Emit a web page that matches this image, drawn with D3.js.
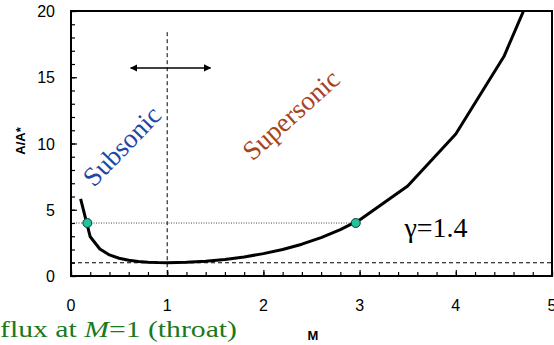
<!DOCTYPE html>
<html>
<head>
<meta charset="utf-8">
<script src="https://cdn.jsdelivr.net/npm/d3@7/dist/d3.min.js"></script>
<style>
  body { margin: 0; background: #fff; }
  svg { display: block; }
</style>
</head>
<body>
<svg id="chart"></svg>
<script>
// area ratio A/A* vs Mach number, gamma = 1.4
const machValues = [0.1, 0.2, 0.3, 0.4, 0.5, 0.6, 0.7, 0.8, 0.9, 1.0, 1.2, 1.4, 1.6, 1.8, 2.0, 2.2, 2.4, 2.6, 2.8, 3.0, 3.5, 4.0, 4.5, 5.0];
const areaRatios = [5.82, 2.96, 2.04, 1.59, 1.34, 1.19, 1.09, 1.04, 1.01, 1.0, 1.03, 1.12, 1.25, 1.44, 1.69, 2.0, 2.4, 2.9, 3.5, 4.23, 6.79, 10.72, 16.56, 25.0];
const markerMach = [0.17, 2.96];
const markerArea = [4, 4];
const xTicks = [0, 1, 2, 3, 4, 5];
const yTicks = [0, 5, 10, 15, 20];

const width = 554, height = 345;
const plotLeft = 71, plotRight = 552, plotTop = 11, plotBottom = 276;

const svg = d3.select('#chart')
  .attr('width', width)
  .attr('height', height)
  .attr('viewBox', [0, 0, width, height]);

const x = d3.scaleLinear().domain([0, 5]).range([plotLeft, plotRight]);
const y = d3.scaleLinear().domain([0, 20]).range([plotBottom, plotTop]);

const defs = svg.append('defs');
defs.append('clipPath').attr('id', 'plotclip')
  .append('rect').attr('x', plotLeft).attr('y', plotTop)
  .attr('width', plotRight - plotLeft).attr('height', plotBottom - plotTop);

// reference lines
svg.append('line')
  .attr('x1', x(0)).attr('x2', x(5)).attr('y1', y(1)).attr('y2', y(1))
  .style('stroke', '#000').style('stroke-width', 1).style('stroke-dasharray', '4,3');

svg.append('line')
  .attr('x1', x(1)).attr('x2', x(1)).attr('y1', y(18.4)).attr('y2', y(0))
  .style('stroke', '#000').style('stroke-width', 1).style('stroke-dasharray', '4,3');

svg.append('line')
  .attr('x1', x(0)).attr('x2', x(markerMach[1])).attr('y1', y(4)).attr('y2', y(4))
  .style('stroke', '#333').style('stroke-width', 0.9).style('stroke-dasharray', '1,1.5');

// curve
const line = d3.line().x((d, i) => x(machValues[i])).y((d, i) => y(areaRatios[i]));
svg.append('path')
  .datum(areaRatios)
  .attr('clip-path', 'url(#plotclip)')
  .attr('d', line)
  .style('fill', 'none')
  .style('stroke', '#000')
  .style('stroke-width', 3)
  .style('stroke-linejoin', 'round');

// markers
svg.append('g').selectAll('circle')
  .data(markerMach)
  .join('circle')
  .attr('cx', (d) => x(d))
  .attr('cy', (d, i) => y(markerArea[i]))
  .attr('r', 4.5)
  .style('fill', '#1fc49a')
  .style('stroke', '#0b3d30')
  .style('stroke-width', 1);

// frame
svg.append('rect')
  .attr('x', plotLeft).attr('y', plotTop).attr('width', plotRight - plotLeft).attr('height', plotBottom - plotTop)
  .style('fill', 'none').style('stroke', '#000').style('stroke-width', 2);

// axes with inward ticks
const axisFont = '"Liberation Sans", Arial, sans-serif';
const gx = svg.append('g').attr('transform', `translate(0,${plotBottom})`);
gx.call(d3.axisTop(x).tickValues(d3.range(0, 5.001, 0.2)).tickSize(4).tickFormat(''));
gx.call((g) => g.selectAll('.domain').remove());
gx.append('g').call(d3.axisTop(x).tickValues(xTicks).tickSize(6).tickFormat(''))
  .call((g) => g.selectAll('.domain').remove());
svg.append('g').selectAll('text')
  .data(xTicks)
  .join('text')
  .attr('x', (d) => x(d))
  .attr('y', 311)
  .attr('text-anchor', 'middle')
  .style('font-family', axisFont)
  .style('font-size', '16px')
  .text((d) => d);

const gy = svg.append('g').attr('transform', `translate(${plotLeft},0)`);
gy.call(d3.axisRight(y).tickValues(d3.range(0, 20.001, 1)).tickSize(4).tickFormat(''));
gy.call((g) => g.selectAll('.domain').remove());
gy.append('g').call(d3.axisRight(y).tickValues(yTicks).tickSize(6).tickFormat(''))
  .call((g) => g.selectAll('.domain').remove());
svg.append('g').selectAll('text')
  .data(yTicks)
  .join('text')
  .attr('x', 55)
  .attr('y', (d) => y(d) + 6)
  .attr('text-anchor', 'end')
  .style('font-family', axisFont)
  .style('font-size', '16px')
  .text((d) => d);

svg.selectAll('.tick line').style('stroke', '#000').style('stroke-width', 1.2);

// axis titles
svg.append('text')
  .attr('transform', 'translate(25,141) rotate(-90)')
  .attr('text-anchor', 'middle')
  .style('font-family', axisFont)
  .style('font-weight', 'bold')
  .style('font-size', '13px')
  .text('A/A*');

svg.append('text')
  .attr('x', 313).attr('y', 340)
  .attr('text-anchor', 'middle')
  .style('font-family', axisFont)
  .style('font-weight', 'bold')
  .style('font-size', '13px')
  .text('M');

// arrow
defs.append('marker').attr('id', 'arrowhead')
  .attr('viewBox', '0 0 10 10').attr('refX', 9).attr('refY', 5)
  .attr('markerWidth', 5).attr('markerHeight', 5).attr('orient', 'auto-start-reverse')
  .append('path').attr('d', 'M0,0 L10,5 L0,10 Z').style('fill', '#000');
svg.append('line')
  .attr('x1', x(0.62)).attr('x2', x(1.45)).attr('y1', y(15.7)).attr('y2', y(15.7))
  .style('stroke', '#000').style('stroke-width', 1.5)
  .attr('marker-start', 'url(#arrowhead)').attr('marker-end', 'url(#arrowhead)');

// region labels
const serif = '"Liberation Serif", "Times New Roman", serif';
svg.append('text')
  .attr('transform', 'translate(124,148) rotate(-46)')
  .attr('text-anchor', 'middle')
  .attr('dominant-baseline', 'middle')
  .style('font-family', serif)
  .style('font-size', '27px')
  .style('fill', '#1f46a8')
  .text('Subsonic');

svg.append('text')
  .attr('transform', 'translate(293,117) rotate(-42)')
  .attr('text-anchor', 'middle')
  .attr('dominant-baseline', 'middle')
  .style('font-family', serif)
  .style('font-size', '27px')
  .style('fill', '#a8441a')
  .text('Supersonic');

svg.append('text')
  .attr('x', 436).attr('y', 237)
  .attr('text-anchor', 'middle')
  .style('font-family', serif)
  .style('font-size', '28px')
  .text('γ=1.4');

// caption fragment at the bottom left
const caption = svg.append('text')
  .attr('x', 0).attr('y', 337)
  .attr('textLength', 237)
  .attr('lengthAdjust', 'spacingAndGlyphs')
  .style('font-family', serif)
  .style('font-size', '23px')
  .style('fill', '#1a7a1a');
caption.append('tspan').text('flux at ');
caption.append('tspan').style('font-style', 'italic').text('M');
caption.append('tspan').text('=1 (throat)');
</script>
</body>
</html>
